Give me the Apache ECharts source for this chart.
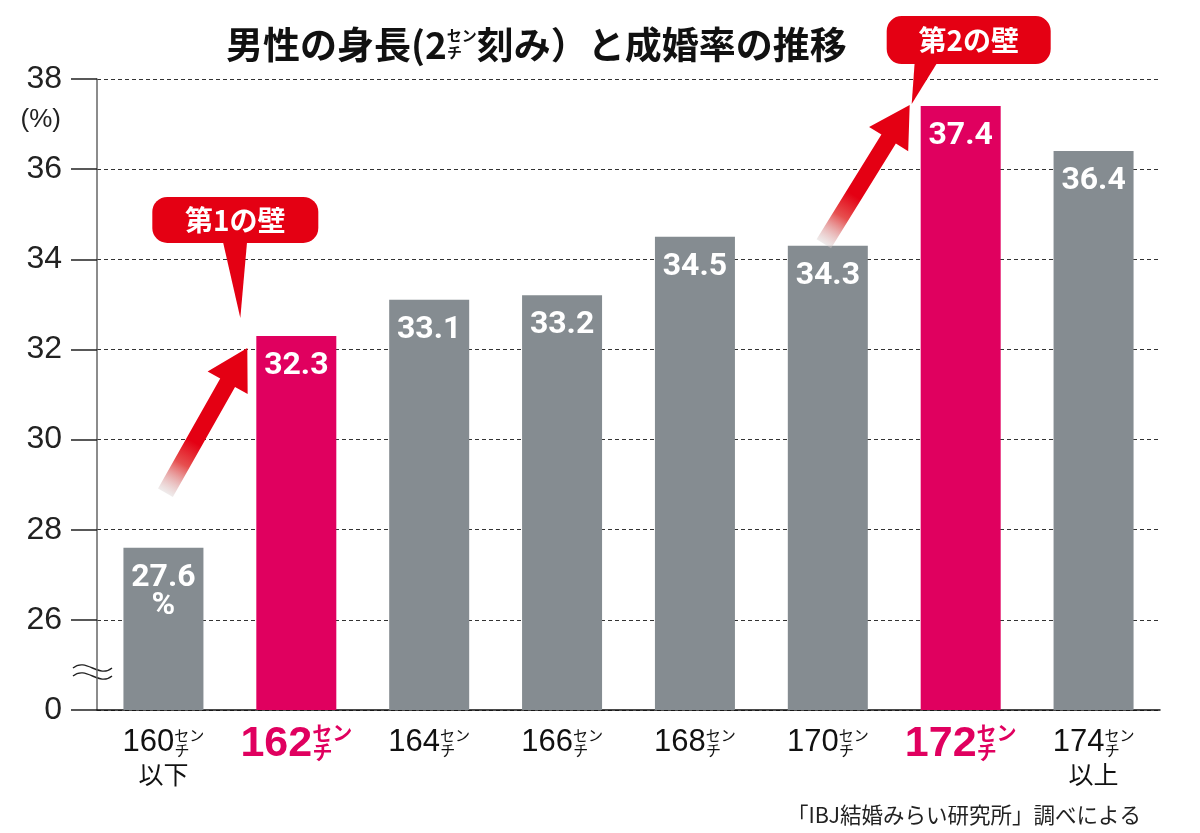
<!DOCTYPE html>
<html><head><meta charset="utf-8">
<script src="https://cdn.jsdelivr.net/npm/echarts@6/dist/echarts.min.js"></script>
<style>html,body{margin:0;padding:0;background:#fff}#c{width:1200px;height:833px}</style>
</head><body><div id="c"></div>
<script>
// ---------- data ----------
const categories = ['160', '162', '164', '166', '168', '170', '172', '174'];
const categorySuffix = ['以下', '', '', '', '', '', '', '以上'];
const highlighted = ['162', '172'];
const values = [27.6, 32.3, 33.1, 33.2, 34.5, 34.3, 37.4, 36.4];
const valueSuffix = ['%', '', '', '', '', '', '', ''];
const yTicks = [24, 26, 28, 30, 32, 34, 36, 38];           // 24 is drawn as "0" (broken axis)
const yTickLabels = ['0', '26', '28', '30', '32', '34', '36', '38'];
const titleA = '男性の身長(2';
const titleB = '刻み）と成婚率の推移';
const unitTop = 'セン', unitBottom = 'チ';
const yUnit = '(%)';
const callouts = [
  { text: '第1の壁', target: '162' },
  { text: '第2の壁', target: '172' }
];
const arrows = [
  { from: '160', to: '162' },
  { from: '170', to: '172' }
];
const sourceNote = '「IBJ結婚みらい研究所」調べによる';

// ---------- style ----------
const GREY = '#858c91', PINK = '#e0005f', RED = '#e40013';
const NUM = '"Liberation Sans", Arial, sans-serif';
const JP = '"Noto Sans CJK JP", sans-serif';
const BAR_W = 80;

const mctx = document.createElement('canvas').getContext('2d');
function tw(t, f) { mctx.font = f; return mctx.measureText(t).width; }
const wNum = Math.round(tw('160', '31px ' + NUM));
const wNumB = Math.round(tw('162', 'bold 43px ' + NUM));
const wTitle = Math.round(tw(titleA, 'bold 37px ' + JP));

const chart = echarts.init(document.getElementById('c'));

const option = {
  animation: false,
  backgroundColor: '#fff',
  title: {
    left: 226, top: 26, padding: 0,
    text: '{t|' + titleA + '}{tu|' + unitTop + '}{t|' + titleB + '}\n{tsp|}{tu|' + unitBottom + '}',
    textStyle: {
      rich: {
        t: { fontFamily: JP, fontWeight: 'bold', fontSize: 37, color: '#111', lineHeight: 18, verticalAlign: 'top', align: 'left' },
        tu: { fontFamily: JP, fontWeight: 'bold', fontSize: 15, color: '#111', lineHeight: 17, align: 'left' },
        tsp: { width: wTitle, lineHeight: 17, align: 'left' }
      }
    }
  },
  grid: { left: 97, right: 40, top: 79, bottom: 123 },
  xAxis: {
    type: 'category',
    data: categories,
    axisLine: { lineStyle: { color: '#111', width: 1.5 } },
    axisTick: { show: false },
    axisLabel: {
      interval: 0, margin: 13,
      formatter: function (v, i) {
        const hi = highlighted.indexOf(v) >= 0;
        let s = hi
          ? '{nb|' + v + '}{ub|' + unitTop + '}\n{spb|}{ub|' + unitBottom + '}'
          : '{n|' + v + '}{u|' + unitTop + '}\n{sp|}{u2|' + unitBottom + '}';
        if (categorySuffix[i]) s += '\n{s|' + categorySuffix[i] + '}';
        return s;
      },
      rich: {
        n: { fontFamily: NUM, fontSize: 31, color: '#111', lineHeight: 20, verticalAlign: 'top', padding: [4, 0, 0, 0], align: 'left' },
        u: { fontFamily: JP, fontSize: 15, color: '#111', lineHeight: 20, verticalAlign: 'top', padding: [5, 0, 0, 0], align: 'left' },
        sp: { width: wNum, lineHeight: 14, align: 'left' },
        u2: { fontFamily: JP, fontSize: 15, color: '#111', lineHeight: 14, align: 'left' },
        nb: { fontFamily: NUM, fontWeight: 'bold', fontSize: 43, color: PINK, lineHeight: 20, verticalAlign: 'top', align: 'left' },
        ub: { fontFamily: JP, fontWeight: 'bold', fontSize: 20, color: PINK, lineHeight: 18, align: 'left' },
        spb: { width: wNumB, lineHeight: 18, align: 'left' },
        s: { fontFamily: JP, fontSize: 25, color: '#111', lineHeight: 28, align: 'center', padding: [6, 0, 0, 0] }
      }
    }
  },
  yAxis: {
    type: 'value', min: 24, max: 38, interval: 2,
    axisLine: { show: true, lineStyle: { color: '#666', width: 1.5 } },
    axisTick: { show: true, length: 26, lineStyle: { color: '#222', width: 1.5 } },
    axisLabel: {
      margin: 35, fontFamily: NUM, fontSize: 32, color: '#222',
      formatter: v => yTickLabels[yTicks.indexOf(v)]
    },
    splitLine: { lineStyle: { color: '#333', width: 1.2, type: [4, 3] } }
  },
  series: [{
    type: 'bar',
    barWidth: BAR_W,
    data: values.map((v, i) => ({
      value: v,
      itemStyle: { color: highlighted.indexOf(categories[i]) >= 0 ? PINK : GREY }
    })),
    label: {
      show: true, position: 'insideTop', distance: 16,
      fontFamily: 'Roboto, sans-serif', fontWeight: 'bold', fontSize: 32, color: '#fff', lineHeight: 28,
      formatter: p => p.value.toFixed(1) + (valueSuffix[p.dataIndex] ? '\n' + valueSuffix[p.dataIndex] : '')
    }
  }]
};
chart.setOption(option);

// ---------- annotations anchored to the chart scales ----------
function px(cat, v) { return chart.convertToPixel({ xAxisIndex: 0, yAxisIndex: 0 }, [categories.indexOf(cat), v]); }
function topOf(cat) { return px(cat, values[categories.indexOf(cat)]); }

const g = [];
const y38 = chart.convertToPixel({ yAxisIndex: 0 }, 38);
const y24 = chart.convertToPixel({ yAxisIndex: 0 }, 24);
g.push({ type: 'text', style: { text: yUnit, x: 61, y: y38 + 41, fill: '#222', font: '26px ' + NUM, textAlign: 'right', textVerticalAlign: 'middle' } });
// axis break mark
[-4, 4].forEach(d => {
  const yy = y24 - 38 + d;
  g.push({ type: 'bezierCurve', shape: { x1: 73, y1: yy, cpx1: 86, cpy1: yy - 11, cpx2: 99, cpy2: yy + 11, x2: 112, y2: yy }, style: { stroke: '#222', lineWidth: 1.4, fill: null } });
});
// footer
g.push({ type: 'text', style: { text: sourceNote, x: 1141, y: 815, fill: '#222', font: '21.5px ' + JP, textAlign: 'right', textVerticalAlign: 'middle' } });

// arrows
const arrowGeo = [
  { tail: [2, -55], tip: [-9, 12] },
  { tail: [-4, -2], tip: [-11, -1] }
];
arrows.forEach((a, k) => {
  const f = topOf(a.from), t = topOf(a.to);
  const T = [f[0] + arrowGeo[k].tail[0], f[1] + arrowGeo[k].tail[1]];
  const P = [t[0] - BAR_W / 2 + arrowGeo[k].tip[0], t[1] + arrowGeo[k].tip[1]];
  const dx = P[0] - T[0], dy = P[1] - T[1], L = Math.hypot(dx, dy);
  const ux = dx / L, uy = dy / L, nx = -uy, ny = ux;
  const H = 40, HW = 23, SW = 8.5;
  const B = [P[0] - ux * H, P[1] - uy * H];
  const pts = [
    [T[0] + nx * SW, T[1] + ny * SW], [B[0] + nx * SW, B[1] + ny * SW], [B[0] + nx * HW, B[1] + ny * HW],
    P, [B[0] - nx * HW, B[1] - ny * HW], [B[0] - nx * SW, B[1] - ny * SW], [T[0] - nx * SW, T[1] - ny * SW]
  ];
  g.push({
    type: 'polygon', z: 10, shape: { points: pts },
    style: { fill: new echarts.graphic.LinearGradient(T[0], T[1], P[0], P[1], [
      { offset: 0, color: 'rgba(215,205,205,0.4)' },
      { offset: 0.2, color: 'rgba(228,60,60,0.9)' },
      { offset: 0.35, color: RED },
      { offset: 1, color: RED }], true) }
  });
});

// callout bubbles (offsets relative to the target bar's top-left corner)
const bubbleGeo = [
  { rect: [-104, -139, 166, 46], tail: [[-34, -97], [-9, -97], [-16, -18]] },
  { rect: [-34, -90, 164, 48], tail: [[-6, -44], [17, -44], [-9, -2]] }
];
callouts.forEach((c, k) => {
  const t = topOf(c.target);
  const L = t[0] - BAR_W / 2, Tp = t[1], b = bubbleGeo[k];
  const rx = L + b.rect[0], ry = Tp + b.rect[1];
  g.push({ type: 'rect', z: 10, shape: { x: rx, y: ry, width: b.rect[2], height: b.rect[3], r: 15 }, style: { fill: RED } });
  g.push({ type: 'polygon', z: 10, shape: { points: b.tail.map(p => [L + p[0], Tp + p[1]]) }, style: { fill: RED } });
  g.push({ type: 'text', z: 11, style: { text: c.text, x: rx + b.rect[2] / 2, y: ry + b.rect[3] / 2, fill: '#fff', font: 'bold 28px ' + JP, textAlign: 'center', textVerticalAlign: 'middle' } });
});

chart.setOption({ graphic: { elements: g } });
</script>
</body></html>
